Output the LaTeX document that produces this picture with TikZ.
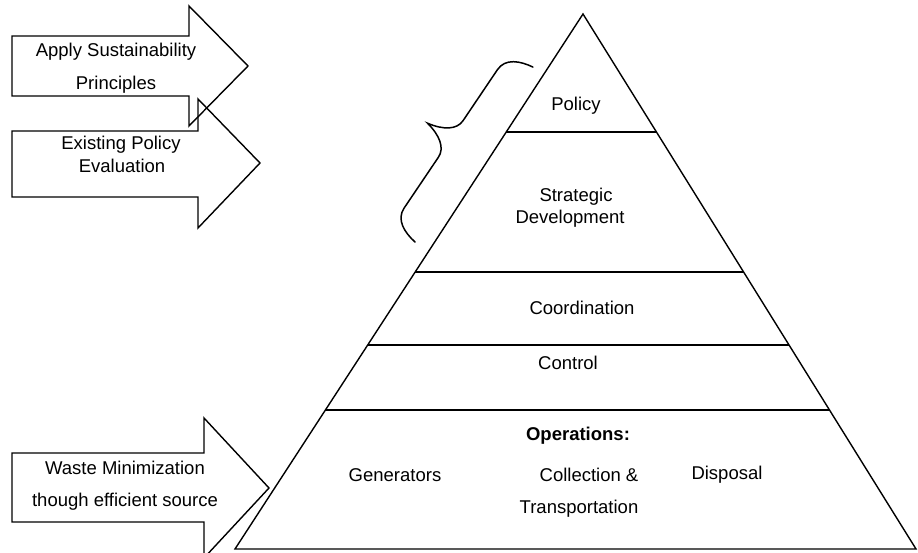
\documentclass[tikz,border=0pt]{standalone}
\usepackage{fontspec}
\setmainfont{Liberation Sans}
\usetikzlibrary{calc}
\begin{document}
\begin{tikzpicture}[x=1pt,y=-1pt,
  outline/.style={draw=black, line width=1.4pt, line join=miter},
  band/.style={draw=black, line width=1.5pt},
  thickband/.style={draw=black, line width=2.8pt},
  lbl/.style={font=\fontsize{18.5}{22}\selectfont, inner sep=0pt, align=center},
  bracestroke/.style={draw=black, line width=1.5pt, line cap=round}]
\useasboundingbox (0,0) rectangle (918,553);

% ---------- pyramid ----------
\coordinate (apex) at (583,14);
\coordinate (bl) at (235,549);
\coordinate (br) at (916,549);
\draw[outline] (apex) -- (bl) -- (br) -- cycle;

% horizontal dividers between the levels
\coordinate (p1l) at ($(bl)!0.7794!(apex)$);
\coordinate (p1r) at ($(br)!0.7794!(apex)$);
\coordinate (p2l) at ($(bl)!0.5178!(apex)$);
\coordinate (p2r) at ($(br)!0.5178!(apex)$);
\coordinate (p3l) at ($(bl)!0.3813!(apex)$);
\coordinate (p3r) at ($(br)!0.3813!(apex)$);
\coordinate (p4l) at ($(bl)!0.2598!(apex)$);
\coordinate (p4r) at ($(br)!0.2598!(apex)$);
\draw[band] (p1l) -- (p1r);
\draw[band] (p2l) -- (p2r);
\draw[band] (p3l) -- (p3r);
\draw[thickband] (p4l) -- (p4r);

% level labels
\node[lbl] (policy) at (576,106) {Policy};
\node[lbl] (strat1) at (576,197) {Strategic};
\node[lbl] (strat2) at (570,219) {Development};
\node[lbl] (coord) at (582,308) {Coordination};
\node[lbl] (control) at (568,363) {Control};
\node[lbl, font=\fontsize{18.5}{22}\selectfont\bfseries] (ops) at (578,436) {Operations:};
\node[lbl] (gen) at (395,475) {Generators};
\node[lbl] (coll) at (589,475) {Collection \&};
\node[lbl] (trans) at (579,509) {Transportation};
\node[lbl] (disp) at (727,475) {Disposal};

% ---------- curly brace beside the upper levels ----------
\coordinate (braceA) at (415,242);
\begin{scope}[shift={(braceA)}, x={(0.559pt,0.829pt)}, y={(-0.829pt,0.559pt)}]
  \draw[bracestroke]
    (0,0) .. controls (2,14) and (8,28) .. (22,28)
    -- (83.5,28) .. controls (94.5,28) and (102.2,39) .. (105.5,56)
    .. controls (108.8,39) and (116.5,28) .. (127.5,28)
    -- (189,28) .. controls (203,28) and (209,14) .. (211,0);
\end{scope}

% ---------- block arrows ----------
\draw[outline] (12,36) -- (189,36) -- (189,6) -- (248,66) -- (189,126)
  -- (189,96) -- (12,96) -- cycle;
\draw[outline] (12,131) -- (198,131) -- (198,99) -- (260,163) -- (198,228)
  -- (198,197) -- (12,197) -- cycle;
\draw[outline] (12,453) -- (204,453) -- (204,418) -- (269,488) -- (204,558)
  -- (204,522) -- (12,522) -- cycle;

\node[lbl] (apply1) at (116,52) {Apply Sustainability};
\node[lbl] (apply2) at (116,85) {Principles};
\node[lbl] (exist1) at (121,145) {Existing Policy};
\node[lbl] (exist2) at (122,166) {Evaluation};
\node[lbl] (waste1) at (125,468) {Waste Minimization};
\node[lbl] (waste2) at (125,502) {though efficient source};
\end{tikzpicture}
\end{document}
